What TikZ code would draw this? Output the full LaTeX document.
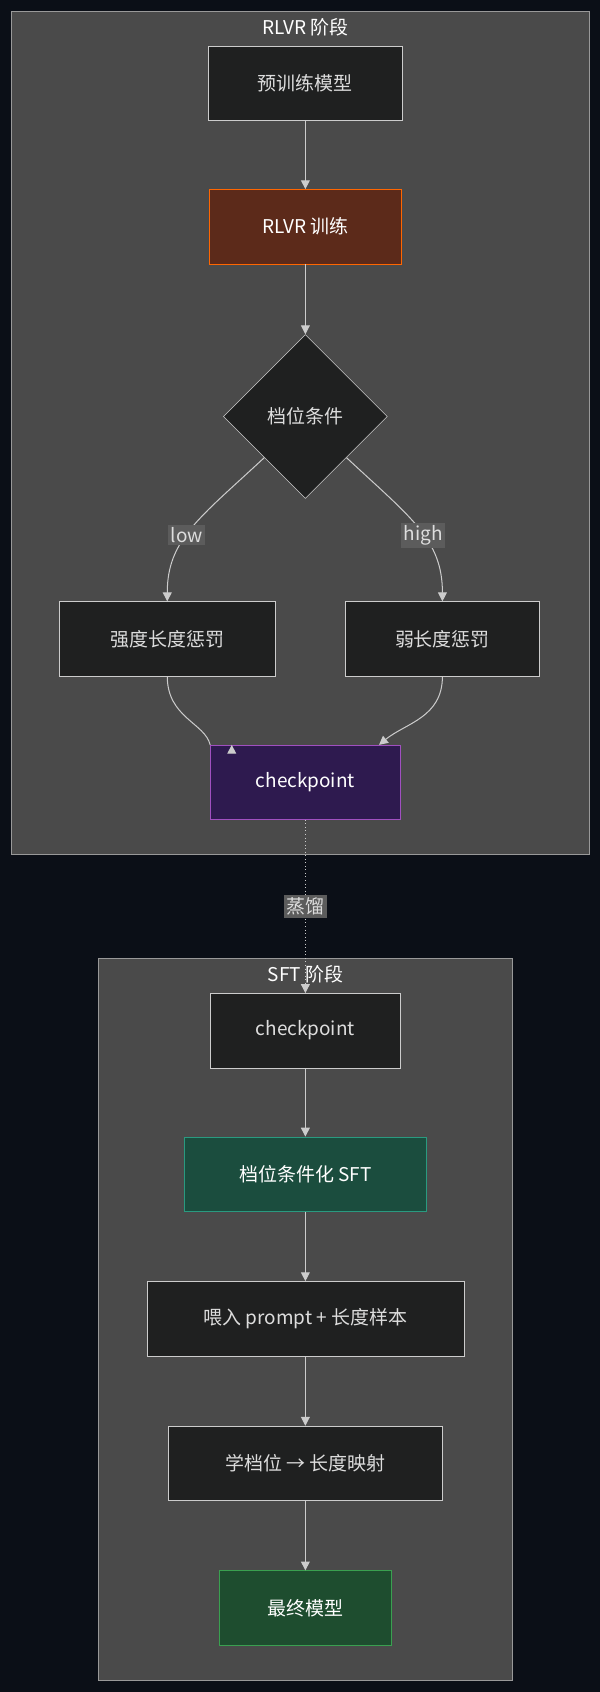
\documentclass[tikz,border=0pt]{standalone}
\usepackage{fontspec}
\setmainfont{Liberation Sans}
\newfontfamily\cjk{Noto Sans CJK SC}
\usetikzlibrary{shapes.geometric,arrows.meta}
\definecolor{pagebg}{HTML}{0B0F17}
\definecolor{clusterbg}{HTML}{4A4A4A}
\definecolor{nodebg}{HTML}{1F2020}
\definecolor{txt}{HTML}{DDDDDD}
\tikzset{%
	cluster/.style={draw=gray!80,fill=clusterbg},
	box/.style={draw=gray!40,fill=nodebg,text=txt,minimum height=69*0.03cm,font=\cjk\fontsize{15}{17}\selectfont},
	edge/.style={draw=gray!40,thick,-{Triangle[length=7pt,width=7pt]}},
	elabel/.style={fill=clusterbg!90,text=txt,inner sep=2pt,font=\cjk\fontsize{15}{17}\selectfont}
}
\begin{document}
\begin{tikzpicture}[x=0.03cm,y=-0.03cm]
		\fill [pagebg] (0,0) rectangle (556,1568);
		\useasboundingbox (0,0) rectangle (556,1568);

		% RLVR stage
		\draw [cluster] (10,10) rectangle (546,792);
		\node [text=white,font=\cjk\fontsize{15}{17}\selectfont] (t1) at (283,25) {RLVR 阶段};
		\node [box,minimum width=180*0.03cm] (pre) at (283,77) {预训练模型};
		\node [box,minimum width=178*0.03cm,fill=brown!40!black,draw=orange!80!red,text=white,fill={rgb,255:red,92;green,42;blue,26}] (rlvr) at (283,210) {RLVR 训练};
		\node [box,diamond,minimum width=152*0.03cm,minimum height=152*0.03cm,inner sep=0pt] (cond) at (283,386) {档位条件};
		\node [box,minimum width=201*0.03cm] (strong) at (155,592) {强度长度惩罚};
		\node [box,minimum width=180*0.03cm] (weak) at (410,592) {弱长度惩罚};
		\node [box,minimum width=176*0.03cm,fill={rgb,255:red,46;green,26;blue,79},draw={rgb,255:red,160;green,80;blue,192},text=white] (ck1) at (283,725) {checkpoint};

		\draw [edge] (pre) -- (rlvr);
		\draw [edge] (rlvr) -- (cond);
		\draw [edge] (cond.south west) .. controls (185,480) and (155,500) .. node[elabel,pos=0.55]{low} (strong.north);
		\draw [edge] (cond.south east) .. controls (381,480) and (410,500) .. node[elabel,pos=0.55]{high} (weak.north);
		\draw [edge] (strong.south) .. controls (155,665) and (190,670) .. (ck1.north west) ++(20,0);
		\draw [edge] (weak.south) .. controls (410,665) and (376,670) .. ([xshift=-20*0.03cm]ck1.north east);

		% SFT stage
		\draw [cluster] (91,888) rectangle (475,1557);
		\node [text=white,font=\cjk\fontsize{15}{17}\selectfont] (t2) at (283,903) {SFT 阶段};
		\node [box,minimum width=176*0.03cm] (ck2) at (283,955) {checkpoint};
		\node [box,minimum width=224*0.03cm,fill={rgb,255:red,27;green,77;blue,62},draw={rgb,255:red,42;green,154;blue,128},text=white] (sft) at (283,1088) {档位条件化 SFT};
		\node [box,minimum width=294*0.03cm] (feed) at (283,1222) {喂入 prompt + 长度样本};
		\node [box,minimum width=254*0.03cm] (learn) at (283,1356) {学档位 → 长度映射};
		\node [box,minimum width=160*0.03cm,fill={rgb,255:red,30;green,77;blue,47},draw={rgb,255:red,58;green,160;blue,80},text=white] (final) at (283,1490) {最终模型};

		\draw [edge,dotted] (ck1) -- node[elabel]{蒸馏} (ck2);
		\draw [edge] (ck2) -- (sft);
		\draw [edge] (sft) -- (feed);
		\draw [edge] (feed) -- (learn);
		\draw [edge] (learn) -- (final);
	\end{tikzpicture}
\end{document}
